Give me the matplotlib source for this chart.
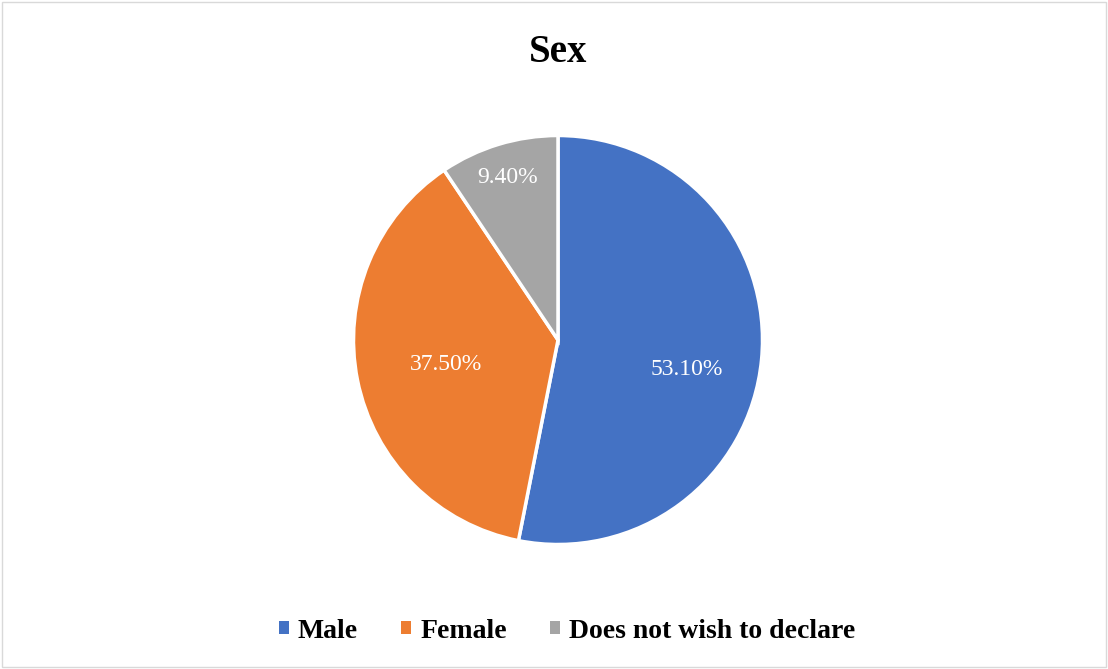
import matplotlib
matplotlib.use("Agg")
import matplotlib.pyplot as plt
from matplotlib.patches import Rectangle
import numpy as np

categories = ["Male", "Female", "Does not wish to declare"]
values = [53.10, 37.50, 9.40]
labels_txt = ["53.10%", "37.50%", "9.40%"]
colors = ["#4472C4", "#ED7D31", "#A5A5A5"]
label_dist = [0.646, 0.56, 0.83]
label_ang_off = [-7.2, 0.9, 0.3]

plt.rcParams['font.family'] = ['Liberation Serif', 'DejaVu Serif']

fig = plt.figure(figsize=(11.08, 6.69), dpi=100)
fig.patches.append(Rectangle((0.002, 0.003), 0.996, 0.994, transform=fig.transFigure,
                             fill=False, edgecolor="#D9D9D9", linewidth=1.0))

# pie axes: center (558,340), radius ~204 px
r = 204.5
cx, cy = 558, 669 - 340
ax = fig.add_axes([(cx - r) / 1108, (cy - r) / 669, 2 * r / 1108, 2 * r / 669])
wedges, texts = ax.pie(values, colors=colors, startangle=90, counterclock=False,
                       wedgeprops=dict(edgecolor="white", linewidth=2.5))
ax.set_xlim(-1, 1)
ax.set_ylim(-1, 1)
ax.set_aspect("equal")

for w, lab, d, off in zip(wedges, labels_txt, label_dist, label_ang_off):
    ang = np.deg2rad((w.theta1 + w.theta2) / 2 + off)
    ax.text(d * np.cos(ang), d * np.sin(ang), lab, ha="center", va="center",
            color="white", fontsize=17)

fig.text(558 / 1108, 1 - 52 / 669, "Sex", ha="center", va="center",
         fontsize=28, fontweight="bold")

leg = fig.legend(wedges, categories, loc="center", bbox_to_anchor=(567 / 1108, 1 - 631 / 669),
                 ncol=3, frameon=False, prop=dict(weight="bold", size=20),
                 handlelength=0.36, handleheight=0.36, handletextpad=0.32, columnspacing=1.55)
for h in leg.legend_handles:
    h.set_edgecolor("none")

fig.savefig("out.png", dpi=100)
